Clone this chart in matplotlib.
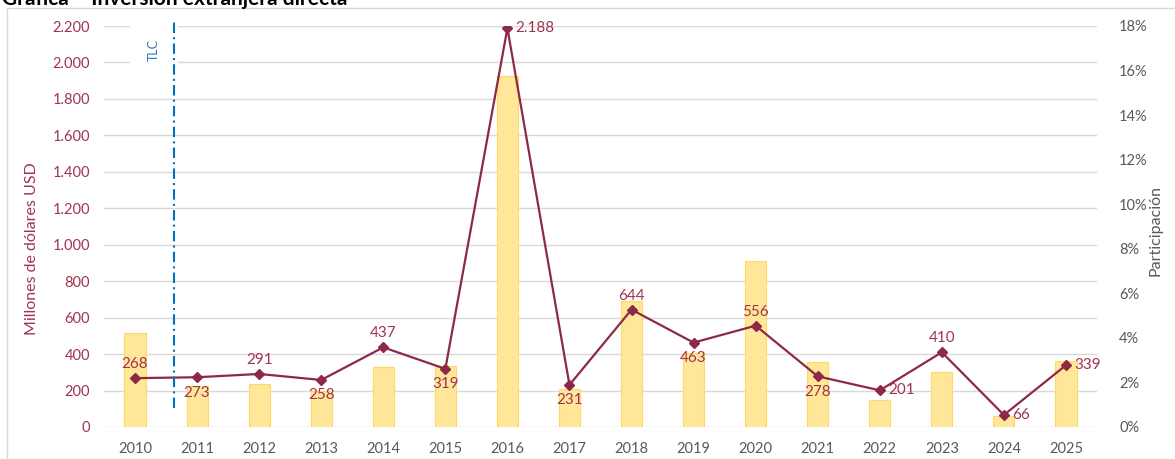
import matplotlib.pyplot as plt
from matplotlib.patches import Rectangle
from matplotlib.ticker import FuncFormatter, MultipleLocator

plt.rcParams['font.family'] = ['Lato', 'DejaVu Sans']

years = [str(y) for y in range(2010, 2026)]
ied = [268, 273, 291, 258, 437, 319, 2188, 231, 644, 463, 556, 278, 201, 410, 66, 339]
share = [4.2, 1.85, 1.95, 1.6, 2.7, 2.75, 15.75, 1.7, 5.65, 3.3, 7.45, 2.9, 1.2, 2.45, 0.5, 2.95]
label_pos = ['above', 'below', 'above', 'below', 'above', 'below', 'right', 'below',
             'above', 'below', 'above', 'below', 'right', 'above', 'right', 'right']
tlc_x = 0.63

LINE = '#8C2A46'
LABEL = '#A0344F'
GRAY = '#595959'


def thousands(v, pos):
    return f"{v:,.0f}".replace(',', '.')


def main():
    fig = plt.figure(figsize=(11.75, 4.59), dpi=100)
    fig.patches.append(Rectangle((7 / 1175, -0.05), 1.1, 1.05 - 8 / 459,
                                 transform=fig.transFigure, fill=False,
                                 edgecolor='#D9D9D9', lw=1))
    fig.text(2 / 1175, 1 - 5 / 459, 'Gráfica – Inversión extranjera directa',
             fontsize=15, fontweight='bold', va='baseline', ha='left')

    ax = fig.add_axes([104 / 1175, 32 / 459, 993 / 1175, 401 / 459])
    x = list(range(len(years)))
    ax.set_xlim(-0.5, len(years) - 0.5)
    ax.set_ylim(0, 2200)
    ax.yaxis.set_major_locator(MultipleLocator(200))
    ax.yaxis.set_major_formatter(FuncFormatter(thousands))
    ax.grid(axis='y', color='#D9D9D9', lw=1)
    ax.set_axisbelow(True)
    for s in ax.spines.values():
        s.set_visible(False)
    ax.tick_params(axis='y', length=0, pad=10, labelcolor=LABEL, labelsize=10.5)
    ax.tick_params(axis='x', length=0, pad=11, labelcolor=GRAY, labelsize=10.5)
    ax.set_xticks(x)
    ax.set_xticklabels(years)
    ax.set_ylabel('Millones de dólares USD', color=LABEL, fontsize=11.5)
    ax.yaxis.set_label_coords(-65 / 993, 0.445)

    axb = ax.twinx()
    axb.bar(x, share, width=0.34, color='#FFE699', edgecolor='#FFD966', lw=0.8)
    axb.set_ylim(0, 18)
    axb.yaxis.set_major_locator(MultipleLocator(2))
    axb.yaxis.set_major_formatter(FuncFormatter(lambda v, p: f"{v:.0f}%"))
    for s in axb.spines.values():
        s.set_visible(False)
    axb.tick_params(axis='y', length=0, pad=16, labelcolor=GRAY, labelsize=10.5)
    axb.set_ylabel('Participación', color=GRAY, fontsize=11.5)
    axb.yaxis.set_label_coords(1 + 51 / 993, 0.49)

    axl = ax.twinx()
    axl.set_ylim(0, 2200)
    axl.set_yticks([])
    for s in axl.spines.values():
        s.set_visible(False)
    axl.plot(x, ied, color=LINE, lw=1.6, marker='D', markersize=5, zorder=3)
    for xi, v, p in zip(x, ied, label_pos):
        txt = thousands(v, None)
        if p == 'above':
            axl.annotate(txt, (xi, v), xytext=(0, 5), textcoords='offset points',
                         ha='center', va='bottom', color=LABEL, fontsize=11)
        elif p == 'below':
            axl.annotate(txt, (xi, v), xytext=(0, -6), textcoords='offset points',
                         ha='center', va='top', color=LABEL, fontsize=11)
        else:
            axl.annotate(txt, (xi, v), xytext=(6, 0), textcoords='offset points',
                         ha='left', va='center', color=LABEL, fontsize=11)

    axl.vlines(tlc_x, 105, 2232, colors='#0070C0', lw=1.5,
               linestyles=(0, (5, 2, 1, 2)), clip_on=False, zorder=5)
    axl.text(tlc_x - 0.32, 2070, 'TLC', rotation=90, color='#2E75B6', fontsize=9,
             ha='center', va='center', zorder=1,
             bbox=dict(facecolor='white', edgecolor='none', pad=13))

    fig.savefig('out.png', dpi=100)


if __name__ == "__main__":
    main()
